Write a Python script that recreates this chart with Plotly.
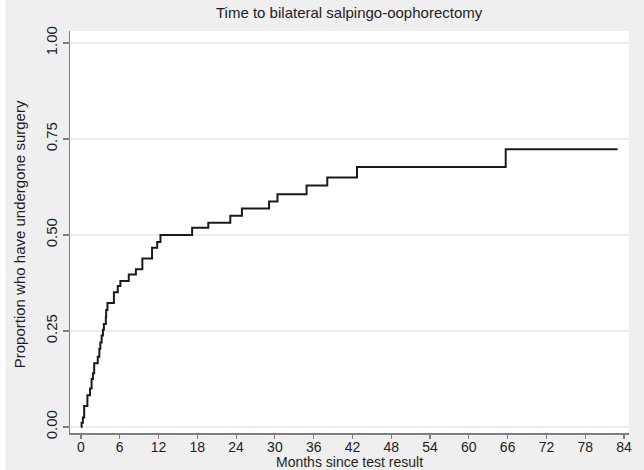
import plotly.graph_objects as go

# Step times (months) and cumulative proportion after each step
months = [0, 0.1, 0.3, 0.5, 1.0, 1.4, 1.65, 1.85, 2.05, 2.6, 2.85, 3.0, 3.2, 3.4, 3.55,
          3.85, 3.9, 4.1, 5.1, 5.7, 6.1, 7.4, 8.5, 9.5, 11.0, 11.8, 12.3, 17.2, 19.7,
          23.1, 24.9, 29.1, 30.4, 34.9, 38.1, 42.7, 65.7, 83.0]
proportion = [0, 0.011, 0.025, 0.055, 0.083, 0.100, 0.125, 0.140, 0.166, 0.183, 0.204,
              0.220, 0.238, 0.253, 0.268, 0.287, 0.305, 0.323, 0.351, 0.367, 0.380,
              0.397, 0.411, 0.439, 0.467, 0.482, 0.500, 0.519, 0.532, 0.550, 0.569,
              0.587, 0.606, 0.629, 0.650, 0.677, 0.723, 0.723]

x_ticks = list(range(0, 85, 6))
y_ticks = [0, 0.25, 0.5, 0.75, 1.0]
y_tick_labels = ["0.00", "0.25", "0.50", "0.75", "1.00"]

title_text = "Time to bilateral salpingo-oophorectomy"
x_title = "Months since test result"
y_title = "Proportion who have undergone surgery"

W, H = 644, 470
L, R, T, B = 70, 12, 31, 37

fig = go.Figure()
fig.add_trace(go.Scatter(x=months, y=proportion, mode="lines",
                         line=dict(shape="hv", color="#1a1a1a", width=2),
                         showlegend=False, hoverinfo="skip"))

font = "Liberation Sans, Arial, sans-serif"
axis_col = "#7f7f7f"
txt_col = "#1e1e1e"

fig.update_layout(
    width=W, height=H,
    margin=dict(l=L, r=R, t=T, b=B, pad=0),
    paper_bgcolor="#efefef",
    plot_bgcolor="#ffffff",
    font=dict(family=font, size=13, color=txt_col),
    showlegend=False,
)
fig.update_xaxes(
    range=[-1.692, 84.77], tickmode="array", tickvals=x_ticks,
    ticks="outside", ticklen=4, tickwidth=1.2, tickcolor=axis_col,
    showline=True, linecolor=axis_col, linewidth=1.5,
    showgrid=False, zeroline=False,
    tickfont=dict(family=font, size=14, color=txt_col),
)
try:
    fig.update_xaxes(ticklabelstandoff=-3)
except Exception:
    pass
fig.update_yaxes(
    range=[-0.0156, 1.03125], tickmode="array", tickvals=y_ticks, ticktext=y_tick_labels,
    tickangle=-90,
    ticks="outside", ticklen=6, tickwidth=1.2, tickcolor=axis_col,
    showline=True, linecolor=axis_col, linewidth=1.5,
    showgrid=True, gridcolor="#ececec", gridwidth=1.2, zeroline=False,
    tickfont=dict(family=font, size=15, color=txt_col),
)

pw, ph = W - L - R, H - T - B
def px_x(p):
    return (p - L) / pw
def px_y(p):
    return (H - B - p) / ph

# thin white strip at the left of the grey graph region
fig.add_shape(type="rect", xref="paper", yref="paper",
              x0=px_x(0), x1=px_x(5), y0=px_y(H), y1=px_y(0),
              fillcolor="#ffffff", line=dict(width=0), layer="below")

fig.add_annotation(text=title_text, xref="paper", yref="paper",
                   x=0.5, y=px_y(12), xanchor="center", yanchor="middle",
                   showarrow=False, font=dict(family=font, size=15, color=txt_col))
fig.add_annotation(text=x_title, xref="paper", yref="paper",
                   x=0.5, y=px_y(462), xanchor="center", yanchor="middle",
                   showarrow=False, font=dict(family=font, size=14, color=txt_col))
fig.add_annotation(text=y_title, xref="paper", yref="paper",
                   x=px_x(19), y=px_y(234), xanchor="center", yanchor="middle", textangle=-90,
                   showarrow=False, font=dict(family=font, size=15, color=txt_col))

fig.write_html("out.html", config={"displayModeBar": False, "staticPlot": True},
               post_script="document.body.style.margin='0';document.body.style.overflow='hidden';")
